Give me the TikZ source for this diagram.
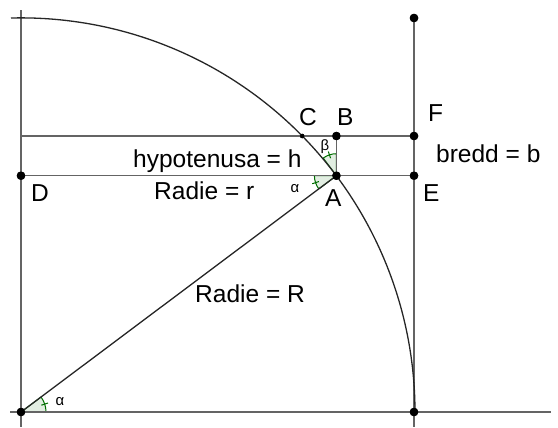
\documentclass[tikz,border=0pt]{standalone}
\usepackage{fontspec}
\setmainfont{Liberation Sans}
\usetikzlibrary{calc}
\definecolor{linegray}{RGB}{100,100,100}
\definecolor{anggreen}{RGB}{0,110,0}
\definecolor{angfill}{RGB}{226,238,226}
\begin{document}
\begin{tikzpicture}[x=1bp,y=-1bp,
  ln/.style={draw=linegray, line width=1.3bp},
  dk/.style={draw=black!85, line width=1.3bp},
  pt/.style={circle, fill=black, inner sep=0pt, minimum size=8.5bp},
  smallpt/.style={circle, fill=black, inner sep=0pt, minimum size=4.5bp},
  lbl/.style={inner sep=0pt, anchor=base west, font=\fontsize{24.6}{28}\selectfont},
  greek/.style={inner sep=0pt, font=\fontsize{15}{18}\selectfont},
  angmark/.style={fill=angfill, draw=anggreen, line width=1bp},
  tick/.style={draw=anggreen, line width=1bp}]
\useasboundingbox (0,0) rectangle (558,427);
% helper coordinates
\coordinate (Ytop) at (21,10);
\coordinate (Ybot) at (21,427);
\coordinate (Xleft) at (10,412);
\coordinate (Xright) at (551,412);
\coordinate (Vbot) at (414,427);
\coordinate (ArcStart) at (11,18);
\coordinate (L1) at (21,136);
% points
\node[pt] (O) at (21,412) {};
\node[pt] (P) at (414,412) {};
\node[pt] (T) at (414,18) {};
\node[pt] (A) at (336.4,175.7) {};
\node[pt] (B) at (336.4,136) {};
\node[smallpt] (C) at (302.2,136) {};
\node[pt] (F) at (414,136) {};
\node[pt] (E) at (414,175.7) {};
\node[pt] (D) at (21,175.7) {};
% angle marks
\path[angmark] (O.center) -- ++(25,0) arc[start angle=0, end angle=-36.84, radius=25] -- cycle;
\draw[tick] ($(O.center)+(-18.42:21.5)$) -- ($(O.center)+(-18.42:28.5)$);
\path[angmark] (A.center) -- ++(-22,0) arc[start angle=180, end angle=143.16, radius=22] -- cycle;
\draw[tick] ($(A.center)+(161.58:18.5)$) -- ($(A.center)+(161.58:25.5)$);
\path[angmark] (A.center) -- ++(0,-22) arc[start angle=-90, end angle=-126.84, radius=22] -- cycle;
\draw[tick] ($(A.center)+(-108.42:18.5)$) -- ($(A.center)+(-108.42:25.5)$);
% lines
\draw[ln] (Ytop) -- (Ybot);
\draw[ln] (Xleft) -- (Xright);
\draw[ln] (T.center) -- (Vbot);
\draw[ln] (L1) -- (F.center);
\draw[ln] (D.center) -- (E.center);
\draw[ln] (B.center) -- (A.center);
\draw[dk] (O.center) -- (A.center);
\draw[dk] (ArcStart) arc[start angle=-91.45, end angle=0, radius=394];
% redraw points on top
\foreach \p in {O,P,T,A,B,F,E,D} \fill (\p.center) circle[radius=4.25bp];
\fill (C.center) circle[radius=2.25bp];
% labels
\node[lbl] (lh) at (133,167) {hypotenusa = h};
\node[lbl] (lr) at (154,199) {Radie = r};
\node[lbl] (lR) at (195,302) {Radie = R};
\node[lbl] (lb) at (436,162) {bredd = b};
\node[lbl] (lA) at (325,206) {A};
\node[lbl] (lE) at (423,201) {E};
\node[lbl] (lD) at (31,201) {D};
\node[lbl] (lC) at (299,125) {C};
\node[lbl] (lB) at (337,125) {B};
\node[lbl] (lF) at (428,121) {F};
\node[greek] (la1) at (295,189) {α};
\node[greek] (lbe) at (325,147) {β};
\node[greek] (la2) at (60,401.5) {α};
\end{tikzpicture}
\end{document}
